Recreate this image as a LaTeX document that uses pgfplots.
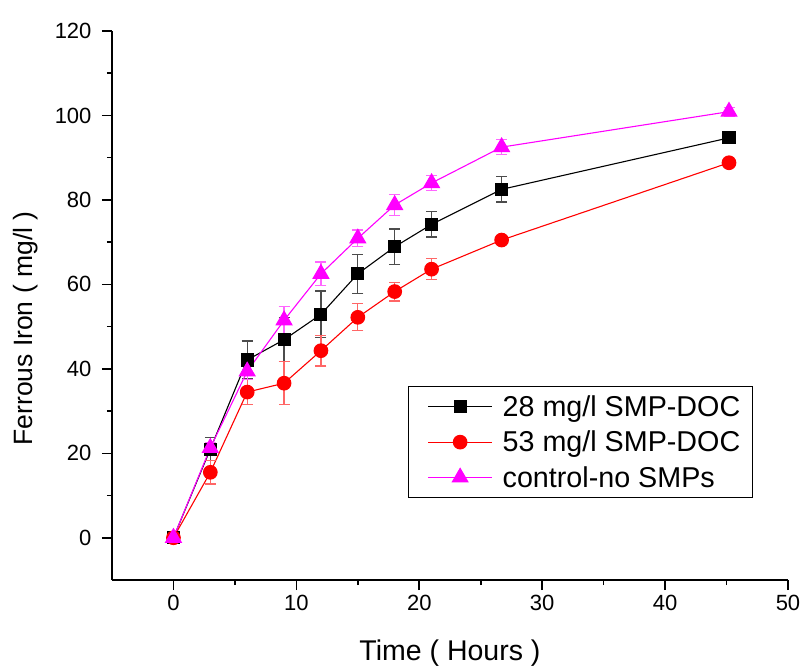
\documentclass[border=0pt]{standalone}
\usepackage{pgfplots}
\pgfplotsset{compat=1.18}
\usepackage{pgfplotstable}
\usepackage{fontspec}
\setmainfont{Liberation Sans}

\definecolor{pureMagenta}{RGB}{255,0,255}
\definecolor{pureRed}{RGB}{255,0,0}

% Time (h), ferrous iron (mg/l), standard deviation
\pgfplotstableread{
t    fe     err
0    0.0    0.5
3    21.0   2.7
6    42.1   4.5
9    46.9   5.2
12   52.9   5.5
15   62.5   4.6
18   68.9   4.2
21   74.2   3.0
26.7 82.5   3.0
45.2 94.7   1.0
}\smpA

\pgfplotstableread{
t    fe     err
0    0.0    0.5
3    15.5   2.8
6    34.5   2.9
9    36.6   5.1
12   44.3   3.6
15   52.2   3.2
18   58.3   2.2
21   63.6   2.5
26.7 70.5   0.5
45.2 88.8   0.8
}\smpB

\pgfplotstableread{
t    fe     err
0    0.0    0.5
3    21.3   1.2
6    39.4   2.0
9    51.5   3.3
12   62.5   2.8
15   70.9   2.0
18   78.8   2.5
21   84.0   1.8
26.7 92.5   1.8
45.2 100.9  1.0
}\control

\begin{document}
\begin{tikzpicture}
\begin{axis}[
  at={(0pt,0pt)}, anchor=south west,
  scale only axis,
  width=676pt, height=549pt,
  xmin=-5, xmax=50, ymin=-10, ymax=120,
  axis x line=bottom, axis y line=left,
  axis line style={-, line width=1.6pt},
  every tick/.style={black, line width=1.6pt},
  tick align=outside,
  major tick length=10pt, minor tick length=5pt,
  xtick={0,10,...,50}, ytick={0,20,...,120},
  minor x tick num=1, minor y tick num=1,
  /pgf/number format/assume math mode=true,
  tick label style={font=\fontsize{22}{26}\selectfont},
  xticklabel style={yshift=-2pt},
  yticklabel style={xshift=-7pt},
  xlabel={Time ( Hours )},
  ylabel={Ferrous Iron ( mg/l )},
  xlabel style={font=\fontsize{28.5}{33}\selectfont,
    at={([yshift=-80pt]axis description cs:0.5,0)}, anchor=base},
  ylabel style={font=\fontsize{26.5}{31}\selectfont,
    at={([xshift=-79pt,yshift=-23pt]axis description cs:0,0.5)}, anchor=base},
  legend style={
    at={(rel axis cs:0.438,0.353)}, anchor=north west,
    draw=black, line width=1pt,
    font=\fontsize{28.7}{34}\selectfont,
    inner xsep=10pt, inner ysep=7pt,
    row sep=9pt,
    nodes={inner sep=2pt},
  },
  legend cell align=left,
  legend image code/.code={
    \path (0pt,0pt) (81pt,0pt);
    \draw[mark repeat=2, mark phase=2] plot coordinates {(9pt,0pt) (41pt,0pt) (73pt,0pt)};
  },
  error bars/y dir=both,
  error bars/y explicit,
]
\addplot[black, line width=1.1pt, mark=square*, mark size=6pt,
  mark options={solid},
  error bars/error bar style={black!70, line width=1.3pt},
  error bars/error mark options={rotate=90, mark size=5.5pt, line width=1.3pt, black!70}]
  table[x=t, y=fe, y error=err] {\smpA};
\addlegendentry{28 mg/l SMP-DOC}

\addplot[pureRed, line width=1.1pt, mark=*, mark size=6.8pt,
  mark options={solid},
  error bars/error bar style={pureRed!60, line width=1.3pt},
  error bars/error mark options={rotate=90, mark size=5.5pt, line width=1.3pt, pureRed!60}]
  table[x=t, y=fe, y error=err] {\smpB};
\addlegendentry{53 mg/l SMP-DOC}

\addplot[pureMagenta, line width=1.1pt, mark=triangle*, mark size=9pt,
  mark options={solid},
  error bars/error bar style={pureMagenta!60, line width=1.3pt},
  error bars/error mark options={rotate=90, mark size=5.5pt, line width=1.3pt, pureMagenta!60}]
  table[x=t, y=fe, y error=err] {\control};
\addlegendentry{control-no SMPs}
\end{axis}
\pgfresetboundingbox
\path[use as bounding box] (-112pt,-87pt) rectangle (691pt,580pt);
\end{tikzpicture}
\end{document}
